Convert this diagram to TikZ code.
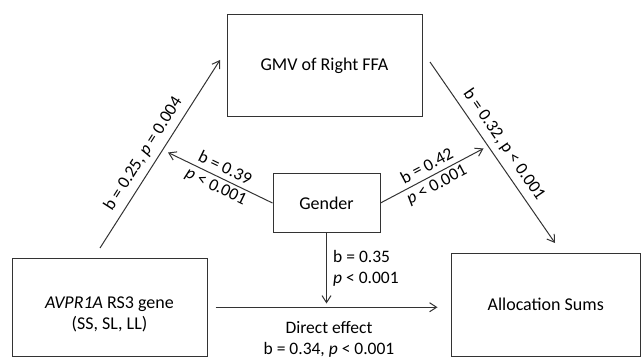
\documentclass[tikz,border=0pt]{standalone}
\usepackage{fontspec}
\setmainfont{Carlito}
\usetikzlibrary{arrows.meta}
\definecolor{linegray}{HTML}{333333}
\newcommand{\pp}{\textit{p}}

\begin{document}
\begin{tikzpicture}[x=1pt,y=-1pt,
    box/.style={draw=linegray,line width=1pt,inner sep=0pt,align=center,
      font=\fontsize{18}{21.5}\selectfont},
    arr/.style={draw=linegray,line width=1pt,-{Straight Barb[length=7pt,width=9pt]}},
    lab/.style={inner sep=2pt,align=center,font=\fontsize{17.5}{20.5}\selectfont}]
     \useasboundingbox (0,0) rectangle (642,358);
     % boxes
     \node[box,minimum width=195pt,minimum height=102pt] (gmv) at (324.5,66) {GMV of Right FFA};
     \node[box,minimum width=107pt,minimum height=58pt] (gender) at (326.5,203) {Gender};
     \node[box,minimum width=195pt,minimum height=98.5pt] (avpr) at (109.5,307.25)
       {\rule{0pt}{26pt}\textit{AVPR1A} RS3 gene\\(SS, SL, LL)};
     \node[box,minimum width=189.5pt,minimum height=103.3pt] (alloc) at (545.75,304.7) {Allocation Sums};
     % free ends
     \coordinate (a1) at (100,248);
     \coordinate (a2) at (220,60);
     \coordinate (b1) at (430,62);
     \coordinate (b2) at (555,243);
     \coordinate (c1) at (168,152.5);
     \coordinate (d1) at (483.5,148.5);
     \coordinate (e1) at (326.5,303.5);
     % paths
     \draw[arr] (a1) -- (a2) node[pos=0.46,sloped,above=4pt,lab] {b = 0.25, \pp{} = 0.004};
     \draw[arr] (b1) -- (b2) node[midway,sloped,above=4pt,lab] {b = 0.32, p < 0.001};
     \draw[arr] (gender.west) -- (c1) node[midway,sloped,lab] {b = 0.39\\\pp{} < 0.001};
     \draw[arr] (gender.east) -- (d1) node[midway,sloped,lab] {b = 0.42\\\pp{} < 0.001};
     \draw[arr] (gender) -- (e1);
     \node[lab,anchor=west,align=left] (lbl35) at (331,268.5) {b = 0.35\\\pp{} < 0.001};
     \draw[arr,shorten <=8pt,shorten >=13pt] (avpr.east) -- (avpr.east -| alloc.west)
       node[midway,below=12pt,lab] {Direct effect\\b = 0.34, \pp{} < 0.001};
\end{tikzpicture}
\end{document}
